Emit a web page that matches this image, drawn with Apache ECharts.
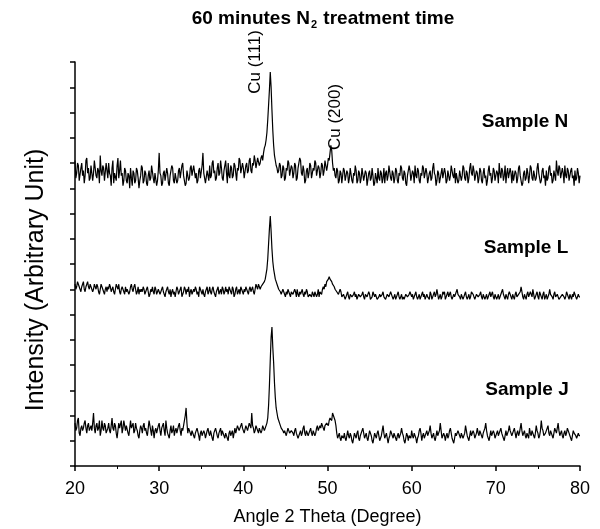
<!DOCTYPE html>
<html><head><meta charset="utf-8">
<script src="https://cdn.jsdelivr.net/npm/echarts@6/dist/echarts.min.js"></script>
<style>html,body{margin:0;padding:0;background:#fff}#c{width:600px;height:529px}</style>
</head><body><div id="c"></div>
<script>
// Sampling grid of the scans (degrees 2θ)
const angleStart = 20, angleStep = 0.1;
const xTicks = [20, 30, 40, 50, 60, 70, 80];
const seriesNames = ['Sample N', 'Sample L', 'Sample J'];
const peakLabels = ['Cu (111)', 'Cu (200)'];

// Intensities (arbitrary units, stacked with offsets as in the figure), one row = 2 degrees
const sampleN = [
121,114,116,120,119,113,113,118,120,115,117,112,115,121,122,116,118,113,114,119,
119,113,116,121,121,115,114,118,117,112,123,117,115,119,118,113,113,120,117,114,
120,116,115,111,118,121,112,116,116,113,119,122,114,117,121,115,116,111,113,118,
117,113,112,116,115,110,118,114,111,117,116,112,113,118,117,114,110,113,115,119,
118,112,113,117,116,112,111,115,117,113,114,119,119,114,112,116,116,111,113,117,
124,116,115,111,112,116,117,113,113,118,116,112,111,115,115,119,118,113,112,116,
116,112,113,117,118,114,114,119,120,115,115,111,112,117,117,113,114,118,119,115,
115,119,119,114,116,112,113,117,118,114,114,119,124,116,116,112,112,117,117,113,
119,114,115,120,121,116,117,113,114,118,120,115,116,121,118,114,113,117,117,121,
116,112,120,115,114,119,118,114,115,120,119,116,113,118,117,122,121,116,116,120,
118,114,114,119,120,116,117,121,122,117,116,120,119,123,121,118,118,122,122,119,
120,122,123,121,124,126,127,129,132,137,143,149,156,150,141,133,127,123,121,119,
118,116,117,120,119,114,115,119,118,113,114,118,117,121,120,115,115,119,118,114,
116,120,119,113,114,118,118,122,121,116,115,119,117,112,113,117,118,114,116,120,
119,114,114,118,117,121,120,115,115,119,118,114,116,120,119,115,117,121,121,117,
119,122,121,124,127,125,120,117,118,115,114,118,117,112,113,117,116,112,115,118,
117,113,113,117,116,112,114,118,118,113,112,116,115,119,117,112,113,117,116,112,
114,118,118,113,113,117,116,111,111,116,117,113,114,118,115,111,112,116,116,112,
118,114,113,117,116,112,114,118,112,116,117,113,115,119,119,114,113,117,116,112,
114,118,117,113,112,116,115,119,118,114,113,117,116,112,111,115,115,119,117,113,
113,117,116,112,119,115,114,118,117,113,112,116,115,119,118,114,114,118,116,112,
112,116,117,113,114,118,120,116,115,111,113,117,116,112,112,116,118,114,114,118,
116,112,113,117,117,113,115,119,119,115,114,118,112,116,116,112,113,117,117,113,
115,119,118,114,113,117,116,112,114,118,120,116,115,119,117,113,113,117,116,112,
114,118,117,113,112,116,118,114,115,111,113,117,119,115,116,112,114,118,117,113,
113,117,116,112,120,116,114,118,117,113,115,119,112,116,118,114,114,118,116,112,
117,113,113,117,116,112,114,118,119,115,115,111,112,116,117,113,114,118,116,112,
115,119,118,114,113,117,117,113,114,118,120,116,116,112,113,117,118,114,115,111,
117,113,114,118,119,115,116,112,113,117,117,113,121,117,115,119,118,114,114,118,
116,112,119,115,114,118,117,113,113,117,118,114,115,111,117,113,114,118,116,112,
115];
const sampleL = [
72,70,71,73,72,71,70,69,71,72,73,70,69,71,72,73,71,70,72,71,
71,69,70,72,71,70,72,71,69,68,70,72,71,70,69,68,70,71,69,71,
70,72,71,69,70,71,69,68,70,72,71,70,72,69,68,70,71,70,69,68,
71,69,70,70,68,69,71,72,70,69,71,72,70,68,69,71,68,70,69,70,
69,71,70,68,69,70,71,69,67,68,70,69,71,69,68,71,70,68,69,70,
70,68,69,70,71,69,68,67,69,70,71,69,68,70,67,69,70,68,69,67,
69,71,70,68,69,70,71,67,68,69,71,70,68,70,69,71,67,69,70,68,
68,70,69,71,70,68,69,67,71,70,69,68,70,68,67,69,70,71,68,69,
71,69,68,70,71,69,68,67,69,70,71,68,69,70,68,71,70,68,69,71,
69,70,68,71,70,69,68,71,70,67,68,70,71,68,69,70,68,71,70,69,
68,70,69,71,70,69,68,70,71,69,70,71,69,68,70,72,71,70,72,71,
70,71,71,72,72,73,74,76,78,82,88,94,99,93,86,81,78,76,74,73,
72,71,70,70,69,68,68,70,70,68,67,69,68,70,69,68,67,69,69,68,
68,70,69,67,70,68,67,69,68,69,70,68,67,69,68,70,69,67,67,68,
68,67,69,68,67,69,69,67,68,70,67,69,69,68,70,71,70,72,71,73,
73,74,75,74,74,73,72,72,71,70,70,69,69,68,68,70,69,67,67,68,
68,66,67,68,69,67,66,68,68,67,67,68,69,67,68,66,66,68,68,67,
67,68,69,67,66,68,68,67,67,69,68,66,66,67,69,68,67,68,68,66,
66,67,68,67,67,68,69,67,67,66,66,68,68,67,67,69,69,67,66,67,
68,66,67,68,69,67,66,67,68,66,67,66,66,68,68,67,67,68,69,68,
67,68,66,67,68,69,67,66,67,68,66,67,68,69,67,68,66,67,68,67,
67,66,69,68,66,67,68,69,67,68,70,68,66,67,68,66,67,69,68,69,
66,67,68,69,67,68,69,67,66,67,68,67,67,69,70,68,68,67,66,68,
68,66,67,68,69,67,66,67,68,66,67,69,69,68,67,66,66,68,68,67,
67,68,69,67,66,68,68,66,67,68,66,67,68,69,67,68,69,67,66,68,
68,66,67,68,66,67,68,69,70,68,67,66,68,67,66,68,69,68,67,66,
68,67,66,68,69,67,67,68,68,69,71,69,67,66,68,67,66,68,69,67,
67,69,68,67,70,68,66,67,68,69,67,66,69,68,67,66,68,69,66,67,
68,66,67,68,70,68,68,67,66,68,69,67,67,68,68,66,66,67,67,68,
68,67,66,67,69,68,67,66,68,67,66,68,67,69,69,67,66,67,68,67,
67];
const sampleJ = [
17,14,15,18,19,13,12,15,16,14,15,17,18,15,13,16,17,14,15,16,
14,17,21,15,13,16,17,14,15,18,12,14,18,15,14,17,16,13,13,15,
17,14,13,16,19,15,14,17,16,13,11,14,17,15,15,18,13,15,18,16,
14,16,16,13,12,15,18,15,15,17,13,14,17,15,14,12,11,14,16,15,
13,16,17,14,15,13,12,15,18,16,14,12,16,14,11,14,15,13,13,16,
17,14,12,15,15,17,14,12,18,15,13,12,11,14,16,13,14,16,12,14,
15,13,13,16,17,14,12,15,14,16,16,20,23,17,13,15,15,13,12,14,
14,12,11,13,13,15,15,12,10,13,14,12,12,14,13,11,11,14,15,13,
12,14,14,11,10,13,13,15,15,12,11,13,13,15,12,14,14,12,11,13,
13,11,10,13,14,12,12,14,11,13,15,13,13,16,16,14,14,16,17,15,
15,13,13,16,16,14,14,17,17,15,21,16,15,13,14,16,16,14,13,15,
15,13,14,16,16,14,15,16,17,19,24,32,42,51,55,47,41,33,27,23,
21,19,18,17,17,15,15,14,13,14,14,12,12,15,15,13,13,14,14,13,
12,14,15,13,13,11,11,13,14,12,13,15,16,13,12,14,14,12,13,14,
15,13,12,14,14,12,13,15,16,14,14,16,15,17,17,15,14,16,16,17,
17,16,18,19,19,18,21,20,20,18,16,13,11,12,13,11,10,12,12,11,
13,11,10,12,14,12,11,13,12,10,9,11,13,12,11,13,14,11,10,12,
12,14,15,13,11,12,13,11,10,12,14,13,12,10,9,11,13,12,11,13,
14,12,10,11,12,14,16,13,11,12,13,11,9,11,12,14,14,12,11,13,
12,11,10,12,13,11,11,13,15,13,12,10,9,11,13,12,10,12,12,11,
14,12,11,13,13,11,9,11,12,14,15,13,10,12,13,11,11,13,14,12,
12,14,16,13,11,12,13,11,10,12,14,12,12,14,17,14,11,12,13,12,
10,12,13,11,12,14,15,13,11,10,9,11,13,12,12,14,14,12,11,13,
13,11,11,13,16,14,12,11,10,12,14,12,12,14,13,11,11,13,15,13,
12,14,14,12,11,13,13,15,17,14,12,11,10,12,14,12,12,14,13,11,
11,13,14,12,12,14,15,13,13,11,10,12,14,12,12,14,16,14,13,12,
12,14,15,13,11,13,14,12,13,15,17,14,12,13,14,12,11,13,13,11,
15,13,12,14,14,12,11,13,16,14,13,11,12,14,18,15,14,12,12,13,
13,15,16,13,12,14,14,12,11,13,15,14,13,15,17,14,12,13,14,12,
11,13,14,12,13,15,15,13,12,11,10,12,14,13,13,12,11,12,13,12,
12];

function pairs(arr) {
  return arr.map((v, i) => [+(angleStart + i * angleStep).toFixed(2), v]);
}

const chart = echarts.init(document.getElementById('c'), null, {renderer: 'canvas'});
const FONT = '"Liberation Sans", Arial, sans-serif';
const lineSeries = [sampleN, sampleL, sampleJ].map((arr, k) => ({
  name: seriesNames[k], type: 'line', data: pairs(arr), showSymbol: false,
  symbol: 'none', lineStyle: {color: '#000', width: 1.2}, animation: false
}));

chart.setOption({
  animation: false,
  backgroundColor: '#fff',
  grid: {left: 75, right: 20, top: 62, bottom: 63, outerBoundsMode: 'none', containLabel: false},
  xAxis: {
    type: 'value', min: 20, max: 80, interval: 10,
    axisLine: {lineStyle: {color: '#000', width: 1.5}},
    axisTick: {length: 5, lineStyle: {color: '#000', width: 1.5}},
    minorTick: {show: true, splitNumber: 2, length: 3, lineStyle: {color: '#000'}},
    splitLine: {show: false},
    axisLabel: {color: '#000', fontSize: 18, fontFamily: FONT, margin: 14,
      formatter: v => xTicks.includes(v) ? String(v) : ''},
    name: 'Angle 2 Theta (Degree)', nameLocation: 'middle', nameGap: 42,
    nameTextStyle: {color: '#000', fontSize: 18, fontFamily: FONT}
  },
  yAxis: {
    type: 'value', min: 0, max: 160, interval: 10,
    axisLine: {show: true, lineStyle: {color: '#000', width: 1.5}},
    axisTick: {show: true, length: 5, lineStyle: {color: '#000', width: 1.5}},
    axisLabel: {show: false},
    splitLine: {show: false}
  },
  series: lineSeries,
  graphic: [
    {type: 'text', x: 323, y: 19, style: {
      text: '{a|60 minutes N}{s|2}{a| treatment time}', align: 'center', verticalAlign: 'middle',
      rich: {
        a: {fontSize: 19, fontWeight: 'bold', fontFamily: FONT, fill: '#000', lineHeight: 22},
        s: {fontSize: 11, fontWeight: 'bold', fontFamily: FONT, fill: '#000', lineHeight: 22, padding: [12, 1, 0, 1]}
      }}},
    {type: 'text', x: 255, y: 62, rotation: Math.PI / 2, style: {
      text: peakLabels[0], fontSize: 17, fontFamily: FONT, fill: '#000', align: 'center', verticalAlign: 'middle'}},
    {type: 'text', x: 335, y: 117, rotation: Math.PI / 2, style: {
      text: peakLabels[1], fontSize: 17, fontFamily: FONT, fill: '#000', align: 'center', verticalAlign: 'middle'}},
    {type: 'text', x: 525, y: 122, style: {
      text: seriesNames[0], fontSize: 19, fontWeight: 'bold', fontFamily: FONT, fill: '#000', align: 'center', verticalAlign: 'middle'}},
    {type: 'text', x: 526, y: 248, style: {
      text: seriesNames[1], fontSize: 19, fontWeight: 'bold', fontFamily: FONT, fill: '#000', align: 'center', verticalAlign: 'middle'}},
    {type: 'text', x: 527, y: 390, style: {
      text: seriesNames[2], fontSize: 19, fontWeight: 'bold', fontFamily: FONT, fill: '#000', align: 'center', verticalAlign: 'middle'}},
    {type: 'text', x: 36, y: 280, rotation: Math.PI / 2, style: {
      text: 'Intensity (Arbitrary Unit)', fontSize: 25, fontFamily: FONT, fill: '#000', align: 'center', verticalAlign: 'middle'}}
  ]
});
</script></body></html>
